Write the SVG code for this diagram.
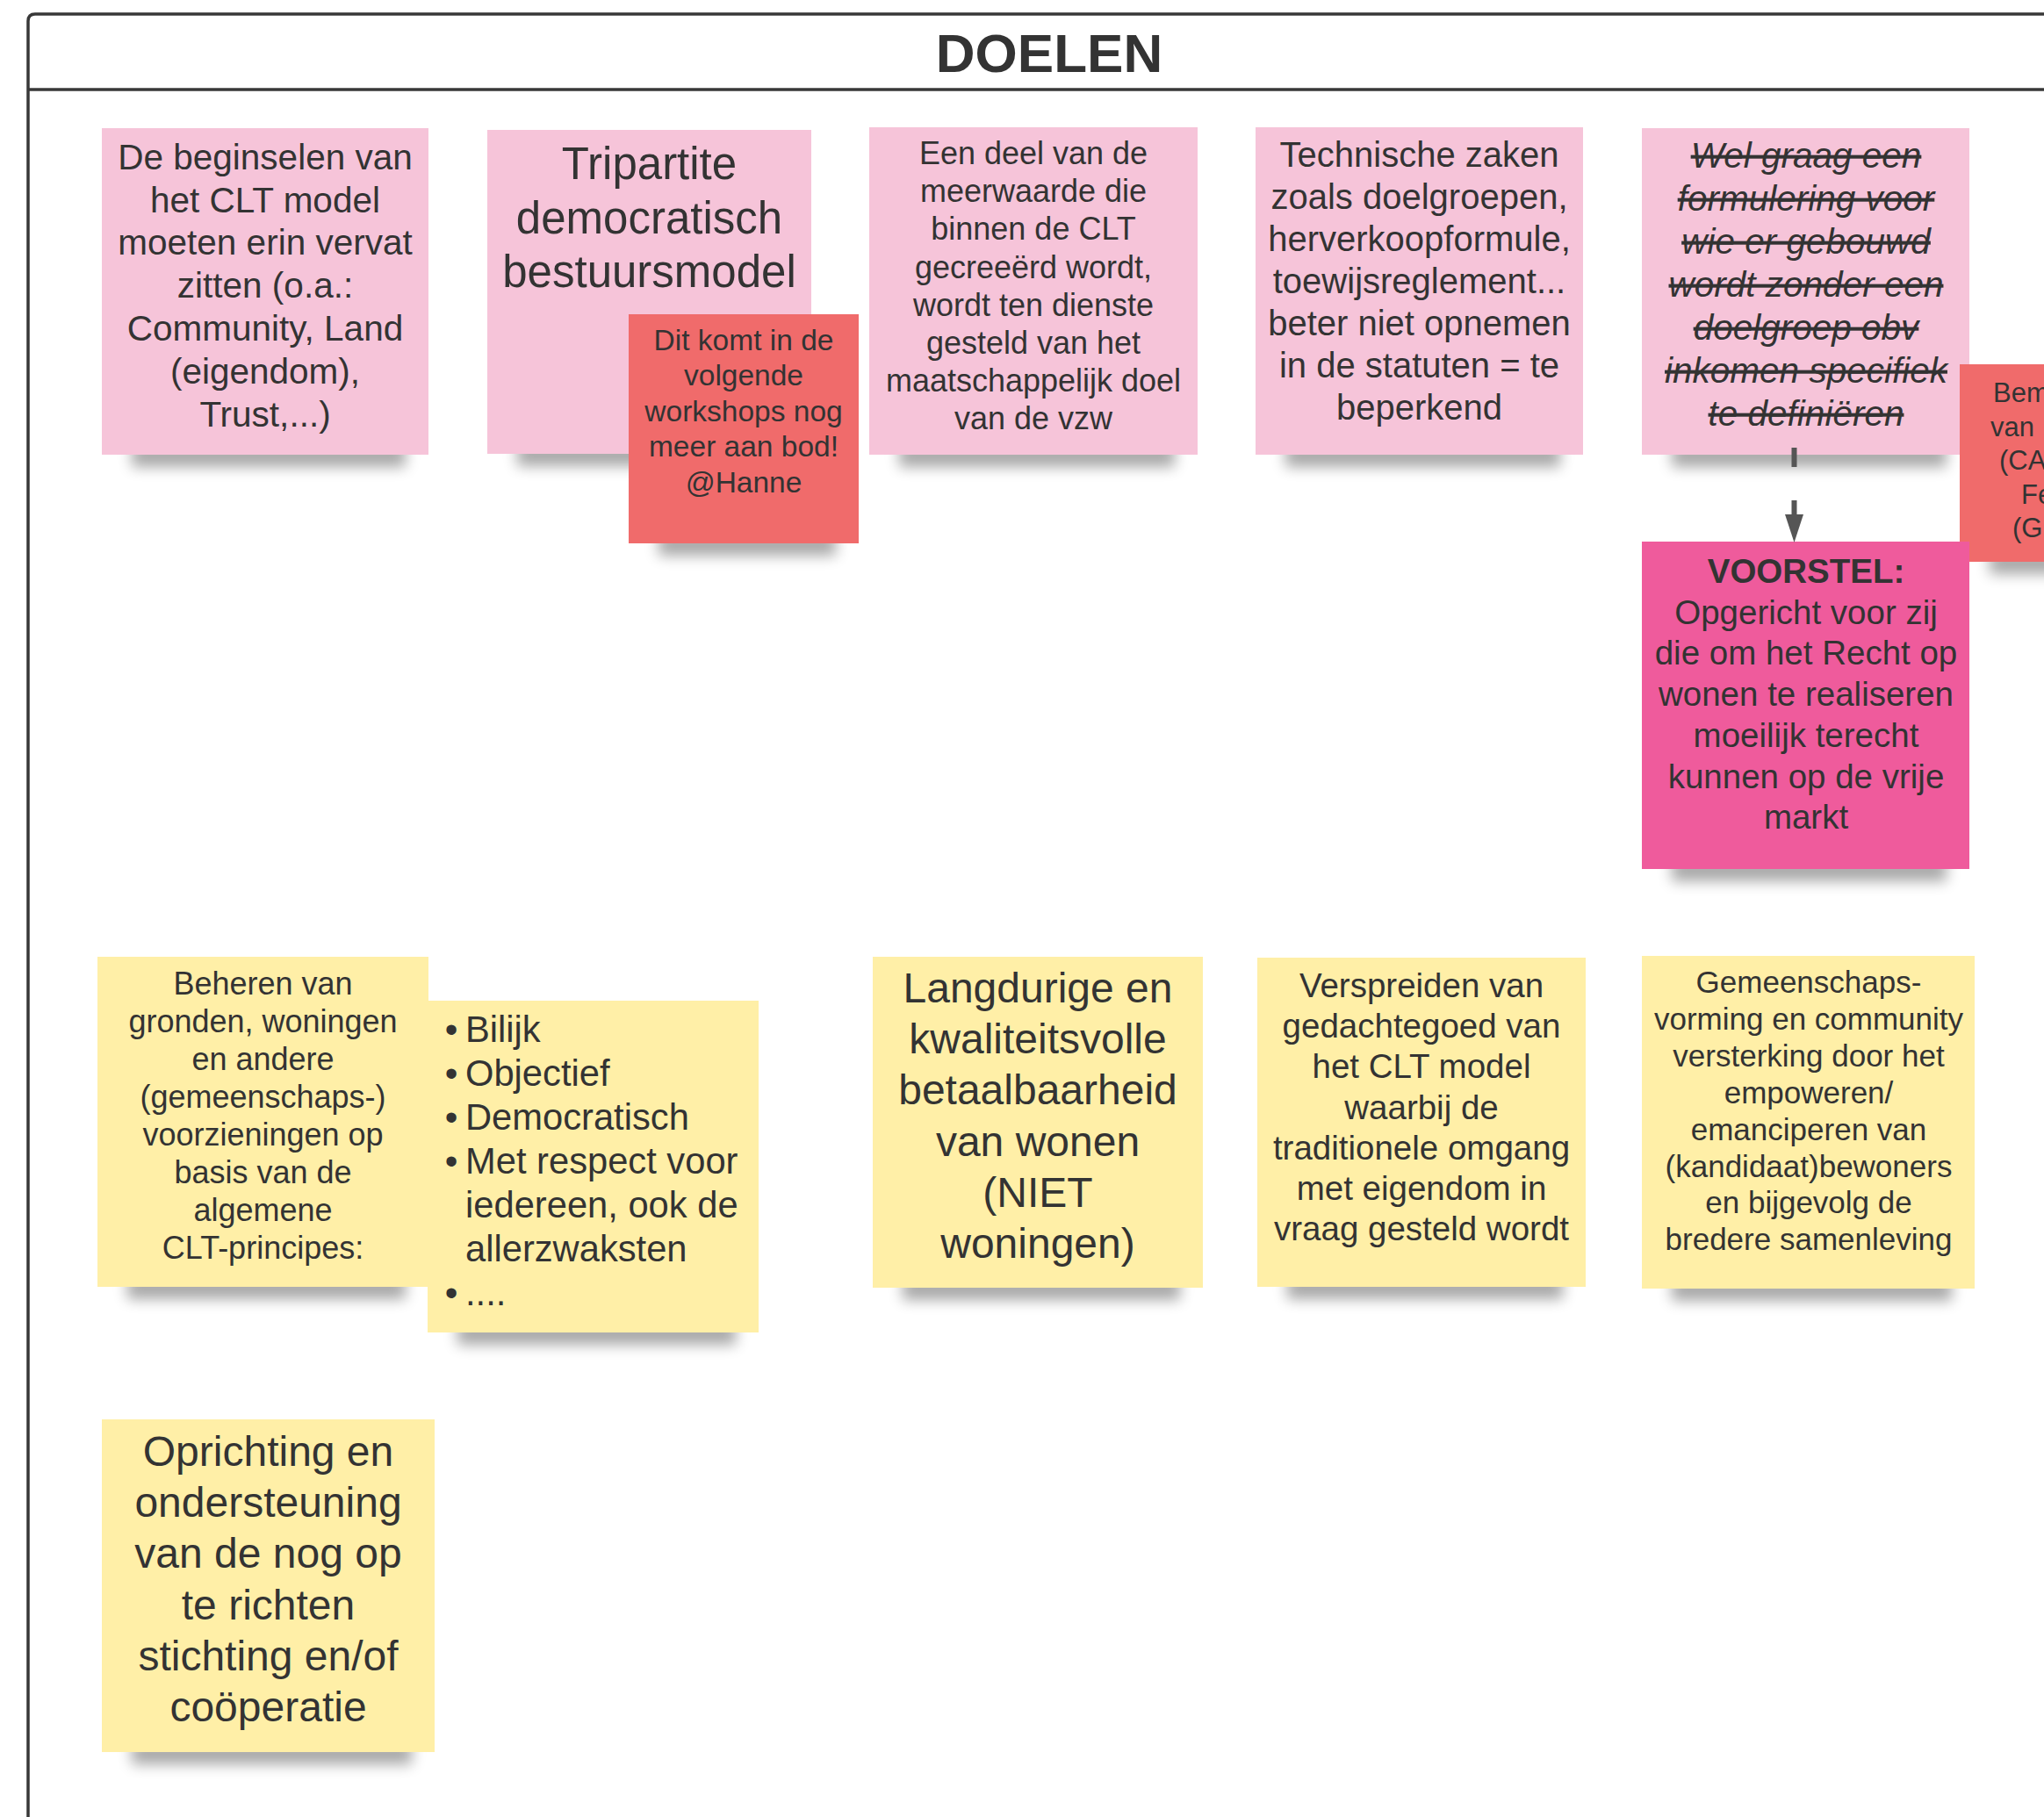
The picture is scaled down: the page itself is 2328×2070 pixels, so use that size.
<svg xmlns="http://www.w3.org/2000/svg" width="2328" height="2070" viewBox="0 0 2328 2070">
<style>
text{font-family:"Liberation Sans",Arial,sans-serif;fill:#333333;text-anchor:middle}
.pink{fill:#F6C4D9}
.red{fill:#F06B6B}
.hot{fill:#EF5B9C}
.yel{fill:#FFEFA7}
.sh{fill:#000;opacity:.34;filter:url(#blur)}
.frame{fill:none;stroke:#383838;stroke-width:3.5}
.strike{font-style:italic;text-decoration:line-through}
.conn{fill:none;stroke:#555555;stroke-width:6;stroke-dasharray:22 38}
</style>
<defs>
<filter id="blur" x="-20%" y="-150%" width="140%" height="400%"><feGaussianBlur stdDeviation="8"/></filter>
<marker id="arr" markerUnits="userSpaceOnUse" markerWidth="32" markerHeight="22" refX="0" refY="10.5" orient="auto" viewBox="0 0 32 21"><path d="M0,0 L32,10.5 L0,21 z" fill="#555555"/></marker>
</defs>
<rect width="2328" height="2070" fill="#ffffff"/>
<g id="frame">
<path class="frame" d="M32 2072 V24 Q32 16 40 16 H2330"/>
<line class="frame" x1="32" y1="102" x2="2330" y2="102" stroke-width="4"/>
<text x="1195" y="82" font-size="62" font-weight="bold">DOELEN</text>
</g>
<g id="n1">
<rect class="sh" x="150" y="506" width="312" height="26"/>
<rect class="pink" x="116" y="146" width="372" height="372"/>
<text font-size="40.5"><tspan x="302" y="193">De beginselen van</tspan><tspan x="302" y="242">het CLT model</tspan><tspan x="302" y="290">moeten erin vervat</tspan><tspan x="302" y="339">zitten (o.a.:</tspan><tspan x="302" y="388">Community, Land</tspan><tspan x="302" y="437">(eigendom),</tspan><tspan x="302" y="486">Trust,...)</tspan></text>
</g>
<g id="n2">
<rect class="sh" x="589" y="505" width="309" height="26"/>
<rect class="pink" x="555" y="148" width="369" height="369"/>
<text font-size="51"><tspan x="739.5" y="204">Tripartite</tspan><tspan x="739.5" y="266">democratisch</tspan><tspan x="739.5" y="327">bestuursmodel</tspan></text>
</g>
<g id="n2b">
<rect class="sh" x="750" y="607" width="202" height="26"/>
<rect class="red" x="716" y="358" width="262" height="261"/>
<text font-size="33.5"><tspan x="847" y="399">Dit komt in de</tspan><tspan x="847" y="439">volgende</tspan><tspan x="847" y="480">workshops nog</tspan><tspan x="847" y="520">meer aan bod!</tspan><tspan x="847" y="561">@Hanne</tspan></text>
</g>
<g id="n3">
<rect class="sh" x="1024" y="506" width="314" height="26"/>
<rect class="pink" x="990" y="145" width="374" height="373"/>
<text font-size="36"><tspan x="1177" y="187">Een deel van de</tspan><tspan x="1177" y="230.2">meerwaarde die</tspan><tspan x="1177" y="273.4">binnen de CLT</tspan><tspan x="1177" y="316.6">gecreeërd wordt,</tspan><tspan x="1177" y="359.8">wordt ten dienste</tspan><tspan x="1177" y="403">gesteld van het</tspan><tspan x="1177" y="446.2">maatschappelijk doel</tspan><tspan x="1177" y="489.4">van de vzw</tspan></text>
</g>
<g id="n4">
<rect class="sh" x="1464" y="506" width="313" height="26"/>
<rect class="pink" x="1430" y="145" width="373" height="373"/>
<text font-size="40"><tspan x="1616.5" y="190">Technische zaken</tspan><tspan x="1616.5" y="238">zoals doelgroepen,</tspan><tspan x="1616.5" y="286">herverkoopformule,</tspan><tspan x="1616.5" y="334">toewijsreglement...</tspan><tspan x="1616.5" y="382">beter niet opnemen</tspan><tspan x="1616.5" y="430">in de statuten = te</tspan><tspan x="1616.5" y="478">beperkend</tspan></text>
</g>
<g id="n5">
<rect class="sh" x="1904" y="506" width="313" height="26"/>
<rect class="pink" x="1870" y="146" width="373" height="372"/>
<text class="strike" font-size="40.5"><tspan x="2057" y="191">Wel graag een</tspan><tspan x="2057" y="240">formulering voor</tspan><tspan x="2057" y="289">wie er gebouwd</tspan><tspan x="2057" y="338">wordt zonder een</tspan><tspan x="2057" y="387">doelgroep obv</tspan><tspan x="2057" y="436">inkomen specifiek</tspan><tspan x="2057" y="485">te definiëren</tspan></text>
</g>
<g id="n6">
<rect class="sh" x="2266" y="628" width="200" height="26"/>
<rect class="red" x="2232" y="415" width="200" height="225"/>
<text font-size="31" style="text-anchor:start"><tspan x="2270" y="458">Bem</tspan><tspan x="2267" y="496.5">van</tspan><tspan x="2277" y="535">(CA</tspan><tspan x="2302" y="573.5">Fe</tspan><tspan x="2292" y="612">(G</tspan></text>
</g>
<g id="n7">
<rect class="sh" x="1904" y="978" width="313" height="26"/>
<rect class="hot" x="1870" y="617" width="373" height="373"/>
<text font-size="38.5"><tspan x="2057" y="664" font-weight="bold">VOORSTEL:</tspan><tspan x="2057" y="710.7">Opgericht voor zij</tspan><tspan x="2057" y="757.4">die om het Recht op</tspan><tspan x="2057" y="804.1">wonen te realiseren</tspan><tspan x="2057" y="850.8">moeilijk terecht</tspan><tspan x="2057" y="897.5">kunnen op de vrije</tspan><tspan x="2057" y="944.2">markt</tspan></text>
</g>
<g id="n8">
<rect class="sh" x="145" y="1454" width="317" height="26"/>
<rect class="yel" x="111" y="1090" width="377" height="376"/>
<text font-size="36"><tspan x="299.5" y="1133">Beheren van</tspan><tspan x="299.5" y="1176">gronden, woningen</tspan><tspan x="299.5" y="1219">en andere</tspan><tspan x="299.5" y="1262">(gemeenschaps-)</tspan><tspan x="299.5" y="1305">voorzieningen op</tspan><tspan x="299.5" y="1348">basis van de</tspan><tspan x="299.5" y="1391">algemene</tspan><tspan x="299.5" y="1434">CLT-principes:</tspan></text>
</g>
<g id="n9">
<rect class="sh" x="521" y="1506" width="317" height="26"/>
<rect class="yel" x="487" y="1140" width="377" height="378"/>
<text font-size="41.7"><tspan x="514" y="1187">•</tspan><tspan x="514" y="1237">•</tspan><tspan x="514" y="1287">•</tspan><tspan x="514" y="1337">•</tspan><tspan x="514" y="1487">•</tspan></text>
<text font-size="41.7" style="text-anchor:start"><tspan x="530" y="1187">Bilijk</tspan><tspan x="530" y="1237">Objectief</tspan><tspan x="530" y="1287">Democratisch</tspan><tspan x="530" y="1337">Met respect voor</tspan><tspan x="530" y="1387">iedereen, ook de</tspan><tspan x="530" y="1437">allerzwaksten</tspan><tspan x="530" y="1487">....</tspan></text>
</g>
<g id="n10">
<rect class="sh" x="1028" y="1455" width="316" height="26"/>
<rect class="yel" x="994" y="1090" width="376" height="377"/>
<text font-size="48"><tspan x="1182" y="1142">Langdurige en</tspan><tspan x="1182" y="1200.2">kwaliteitsvolle</tspan><tspan x="1182" y="1258.4">betaalbaarheid</tspan><tspan x="1182" y="1316.6">van wonen</tspan><tspan x="1182" y="1374.8">(NIET</tspan><tspan x="1182" y="1433">woningen)</tspan></text>
</g>
<g id="n11">
<rect class="sh" x="1466" y="1454" width="314" height="26"/>
<rect class="yel" x="1432" y="1091" width="374" height="375"/>
<text font-size="38.5"><tspan x="1619" y="1136">Verspreiden van</tspan><tspan x="1619" y="1182.2">gedachtegoed van</tspan><tspan x="1619" y="1228.4">het CLT model</tspan><tspan x="1619" y="1274.6">waarbij de</tspan><tspan x="1619" y="1320.8">traditionele omgang</tspan><tspan x="1619" y="1367">met eigendom in</tspan><tspan x="1619" y="1413.2">vraag gesteld wordt</tspan></text>
</g>
<g id="n12">
<rect class="sh" x="1904" y="1456" width="319" height="26"/>
<rect class="yel" x="1870" y="1089" width="379" height="379"/>
<text font-size="35"><tspan x="2060" y="1131">Gemeenschaps-</tspan><tspan x="2060" y="1172.9">vorming en community</tspan><tspan x="2060" y="1214.8">versterking door het</tspan><tspan x="2060" y="1256.7">empoweren/</tspan><tspan x="2060" y="1298.6">emanciperen van</tspan><tspan x="2060" y="1340.5">(kandidaat)bewoners</tspan><tspan x="2060" y="1382.4">en bijgevolg de</tspan><tspan x="2060" y="1424.3">bredere samenleving</tspan></text>
</g>
<g id="n13">
<rect class="sh" x="150" y="1984" width="319" height="26"/>
<rect class="yel" x="116" y="1617" width="379" height="379"/>
<text font-size="48"><tspan x="305.5" y="1670">Oprichting en</tspan><tspan x="305.5" y="1728.2">ondersteuning</tspan><tspan x="305.5" y="1786.4">van de nog op</tspan><tspan x="305.5" y="1844.6">te richten</tspan><tspan x="305.5" y="1902.8">stichting en/of</tspan><tspan x="305.5" y="1961">coöperatie</tspan></text>
</g>
<g id="connectors">
<path class="conn" d="M2043.5 510 V586" marker-end="url(#arr)"/>
</g>
</svg>
